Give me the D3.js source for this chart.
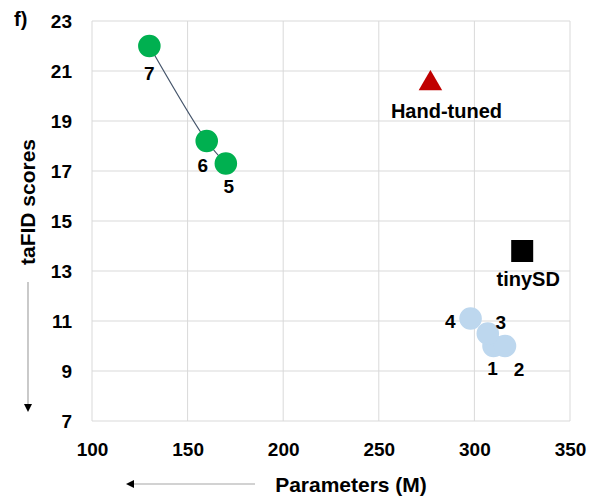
<!DOCTYPE html>
<html lang="en">
<head>
    <meta charset="UTF-8" />
    <title>taFID vs Parameters</title>
    <script src="https://d3js.org/d3.v7.min.js"></script>
    <style>
        body { margin: 0; background: #fff; }
        text { font-family: "Liberation Sans", Arial, sans-serif; font-weight: bold; fill: #000; }
    </style>
</head>
<body>
    <div id="chart"></div>
    <script>
        var w = 589;
        var h = 499;
        var margin = { top: 21, right: 19, bottom: 78, left: 92 };

        // values
        var pointNames = ["1", "2", "3", "4", "5", "6", "7", "Hand-tuned", "tinySD"];
        var pointParams = [310, 316, 307, 298, 170, 160, 130, 277, 325];
        var pointScores = [10.0, 10.0, 10.5, 11.1, 17.3, 18.2, 22.0, 20.5, 13.8];
        var pointGroups = ["small", "small", "small", "small", "ours", "ours", "ours", "hand", "tiny"];
        var xTicks = [100, 150, 200, 250, 300, 350];
        var yTicks = [7, 9, 11, 13, 15, 17, 19, 21, 23];

        var points = pointNames.map(function (d, i) {
            return { name: d, params: pointParams[i], score: pointScores[i], group: pointGroups[i] };
        });

        // label placement relative to the marker centre
        var labelOffset = {
            "1": [-1, 29, "middle"], "2": [14, 30, "middle"], "3": [13, -5, "middle"],
            "4": [-15, 9, "end"], "5": [3, 29, "middle"], "6": [-4, 31, "middle"],
            "7": [0, 34, "middle"], "Hand-tuned": [16, 34, "middle"], "tinySD": [6, 35, "middle"]
        };

        var svg = d3.select("#chart")
            .append("svg")
            .attr("width", w)
            .attr("height", h);

        var xScale = d3.scaleLinear()
            .domain([100, 350])
            .range([margin.left, w - margin.right]);

        var yScale = d3.scaleLinear()
            .domain([7, 23])
            .range([h - margin.bottom, margin.top]);

        // grid
        svg.append("g")
            .selectAll("line")
            .data(xTicks)
            .enter()
            .append("line")
            .attr("x1", function (d) { return xScale(d); })
            .attr("x2", function (d) { return xScale(d); })
            .attr("y1", yScale(23))
            .attr("y2", yScale(7))
            .style("stroke", "#d9d9d9")
            .style("stroke-width", 1);

        svg.append("g")
            .selectAll("line")
            .data(yTicks)
            .enter()
            .append("line")
            .attr("x1", xScale(100))
            .attr("x2", xScale(350))
            .attr("y1", function (d) { return yScale(d); })
            .attr("y2", function (d) { return yScale(d); })
            .style("stroke", "#d9d9d9")
            .style("stroke-width", 1);

        // axes: labels only
        var xAxis = d3.axisBottom(xScale).tickValues(xTicks).tickSize(0).tickPadding(22);
        var yAxis = d3.axisLeft(yScale).tickValues(yTicks).tickSize(0).tickPadding(20);

        var gx = svg.append("g")
            .attr("transform", "translate(0," + (h - margin.bottom) + ")")
            .call(xAxis);
        var gy = svg.append("g")
            .attr("transform", "translate(" + margin.left + ",0)")
            .call(yAxis);

        [gx, gy].forEach(function (g) {
            g.select(".domain").remove();
            g.selectAll("text")
                .style("font-family", "'Liberation Sans', Arial, sans-serif")
                .style("font-weight", "bold")
                .style("font-size", "19px")
                .style("fill", "#000");
        });

        // smoothed line through the green points
        var ours = points.filter(function (d) { return d.group === "ours"; })
            .sort(function (a, b) { return a.params - b.params; });

        var line = d3.line()
            .x(function (d) { return xScale(d.params); })
            .y(function (d) { return yScale(d.score); })
            .curve(d3.curveCatmullRom);

        svg.append("path")
            .datum(ours)
            .attr("d", line)
            .style("fill", "none")
            .style("stroke", "#44546a")
            .style("stroke-width", 1.2);

        // markers
        var colors = { small: "#bdd7ee", ours: "#00b050", hand: "#c00000", tiny: "#000000" };
        var shapes = { small: d3.symbolCircle, ours: d3.symbolCircle, hand: d3.symbolTriangle, tiny: d3.symbolSquare };
        var sizes = { small: 400, ours: 400, hand: 240, tiny: 484 };

        svg.append("g")
            .selectAll("path")
            .data(points)
            .enter()
            .append("path")
            .attr("transform", function (d) {
                return "translate(" + xScale(d.params) + "," + yScale(d.score) + ")";
            })
            .attr("d", function (d) { return d3.symbol().type(shapes[d.group]).size(sizes[d.group])(); })
            .style("fill", function (d) { return colors[d.group]; });

        // point labels
        svg.append("g")
            .selectAll("text")
            .data(points)
            .enter()
            .append("text")
            .attr("x", function (d) { return xScale(d.params) + labelOffset[d.name][0]; })
            .attr("y", function (d) { return yScale(d.score) + labelOffset[d.name][1]; })
            .attr("text-anchor", function (d) { return labelOffset[d.name][2]; })
            .style("font-size", function (d) { return d.name.length > 1 ? "20px" : "19px"; })
            .text(function (d) { return d.name; });

        // panel letter
        svg.append("text")
            .attr("x", 14)
            .attr("y", 26)
            .style("font-size", "20px")
            .text("f)");

        // axis titles with direction arrows
        svg.append("defs").append("marker")
            .attr("id", "arrow")
            .attr("viewBox", "0 0 10 10")
            .attr("refX", 5)
            .attr("refY", 5)
            .attr("markerWidth", 8)
            .attr("markerHeight", 8)
            .attr("markerUnits", "userSpaceOnUse")
            .attr("orient", "auto")
            .append("path")
            .attr("d", "M0,0 L10,5 L0,10 Z")
            .style("fill", "#000");

        svg.append("text")
            .attr("x", 351)
            .attr("y", 492)
            .attr("text-anchor", "middle")
            .style("font-size", "21px")
            .text("Parameters (M)");

        svg.append("line")
            .attr("x1", 255).attr("y1", 484)
            .attr("x2", 130).attr("y2", 484)
            .style("stroke", "#a6a6a6")
            .style("stroke-width", 1.2)
            .attr("marker-end", "url(#arrow)");

        svg.append("text")
            .attr("transform", "translate(35,202) rotate(-90)")
            .attr("text-anchor", "middle")
            .style("font-size", "21px")
            .text("taFID scores");

        svg.append("line")
            .attr("x1", 28).attr("y1", 282)
            .attr("x2", 28).attr("y2", 408)
            .style("stroke", "#a6a6a6")
            .style("stroke-width", 1.2)
            .attr("marker-end", "url(#arrow)");
    </script>
</body>
</html>
